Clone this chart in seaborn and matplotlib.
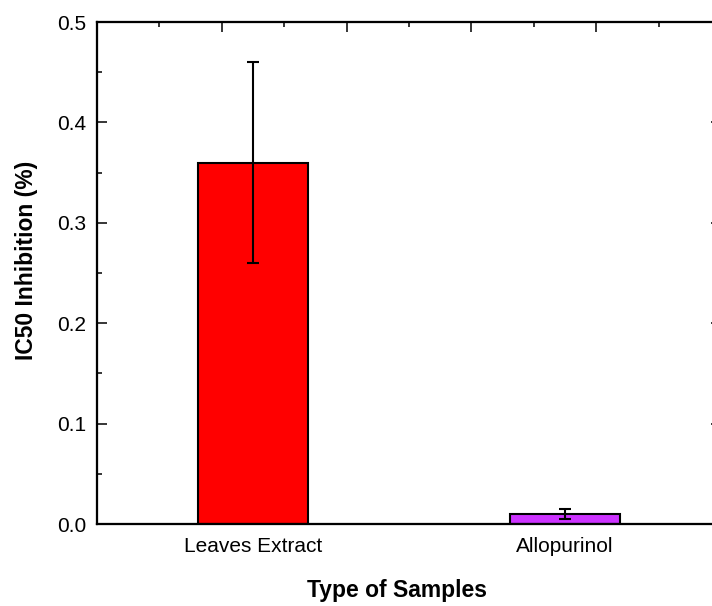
import matplotlib
matplotlib.use("Agg")
import matplotlib.pyplot as plt
import seaborn as sns
import pandas as pd
import numpy as np
from matplotlib.ticker import MultipleLocator, FixedLocator, NullFormatter

categories = ["Leaves Extract", "Allopurinol"]
values = [0.36, 0.01]
errors = [0.10, 0.005]
colors = ["#FF0000", "#CC33FF"]

sns.set_theme(style="white")
plt.rcParams["font.family"] = ["Liberation Sans", "DejaVu Sans"]
plt.rcParams["text.color"] = "black"
plt.rcParams["axes.labelcolor"] = "black"

df = pd.DataFrame({"sample": categories, "ic50": values})

fig = plt.figure(figsize=(7.12, 6.06), dpi=100)
ax = fig.add_axes([97 / 712, 82 / 606, 624 / 712, 502 / 606])

sns.barplot(data=df, x="sample", y="ic50", hue="sample", palette=colors,
            order=categories, hue_order=categories, legend=False, saturation=1,
            width=0.35, edgecolor="black", linewidth=1.5, ax=ax, errorbar=None)

pos = np.arange(len(categories))
ax.errorbar(pos, values, yerr=errors, fmt="none", ecolor="black",
            elinewidth=1.5, capsize=4.5, capthick=1.5, zorder=5)

ax.set_xlim(-0.5, 1.5)
ax.set_ylim(0, 0.5)
ax.yaxis.set_minor_locator(MultipleLocator(0.05))
ax.set_yticks([0.0, 0.1, 0.2, 0.3, 0.4, 0.5])
ax.set_yticklabels(["0.0", "0.1", "0.2", "0.3", "0.4", "0.5"])

for s in ax.spines.values():
    s.set_linewidth(1.5)
    s.set_color("black")

ax.tick_params(axis="both", which="major", direction="in", length=7.2,
               width=1.1, color="black", labelsize=15, labelcolor="black")
ax.tick_params(axis="y", which="minor", direction="in", length=3.6, width=1.1,
               color="black", left=True)
ax.tick_params(axis="y", which="major", left=True, pad=7.5)
ax.tick_params(axis="x", which="major", bottom=True, pad=9)

ax.set_xlabel("Type of Samples", fontsize=16.5, fontweight="bold",
              va="center", ha="center", color="black")
ax.set_ylabel("IC50 Inhibition (%)", fontsize=16.5, fontweight="bold",
              va="center", ha="center", color="black")
ax.xaxis.set_label_coords(0.48, (524 - 590) / 502)
ax.yaxis.set_label_coords((27 - 97) / 624, (524 - 260) / 502)

# top axis ticks (no labels)
axt = ax.twiny()
axt.set_xlim(ax.get_xlim())
axt.xaxis.set_major_locator(FixedLocator([-0.5, -0.1, 0.3, 0.7, 1.1, 1.5]))
axt.xaxis.set_minor_locator(FixedLocator([-0.3, 0.1, 0.5, 0.9, 1.3]))
axt.xaxis.set_major_formatter(NullFormatter())
axt.tick_params(axis="x", which="major", direction="in", length=7.2, width=1.1,
                color="black", top=True)
axt.tick_params(axis="x", which="minor", direction="in", length=3.6, width=1.1,
                color="black", top=True)
axt.grid(False)

# right axis ticks (no labels)
axr = ax.twinx()
axr.set_ylim(ax.get_ylim())
axr.yaxis.set_major_locator(MultipleLocator(0.1))
axr.yaxis.set_minor_locator(MultipleLocator(0.05))
axr.yaxis.set_major_formatter(NullFormatter())
axr.tick_params(axis="y", which="major", direction="in", length=7.2, width=1.1,
                color="black", right=True)
axr.tick_params(axis="y", which="minor", direction="in", length=3.6, width=1.1,
                color="black", right=True)
axr.grid(False)
for a in (axt, axr):
    for s in a.spines.values():
        s.set_linewidth(1.5)
        s.set_color("black")

fig.savefig("out.png", dpi=100)
